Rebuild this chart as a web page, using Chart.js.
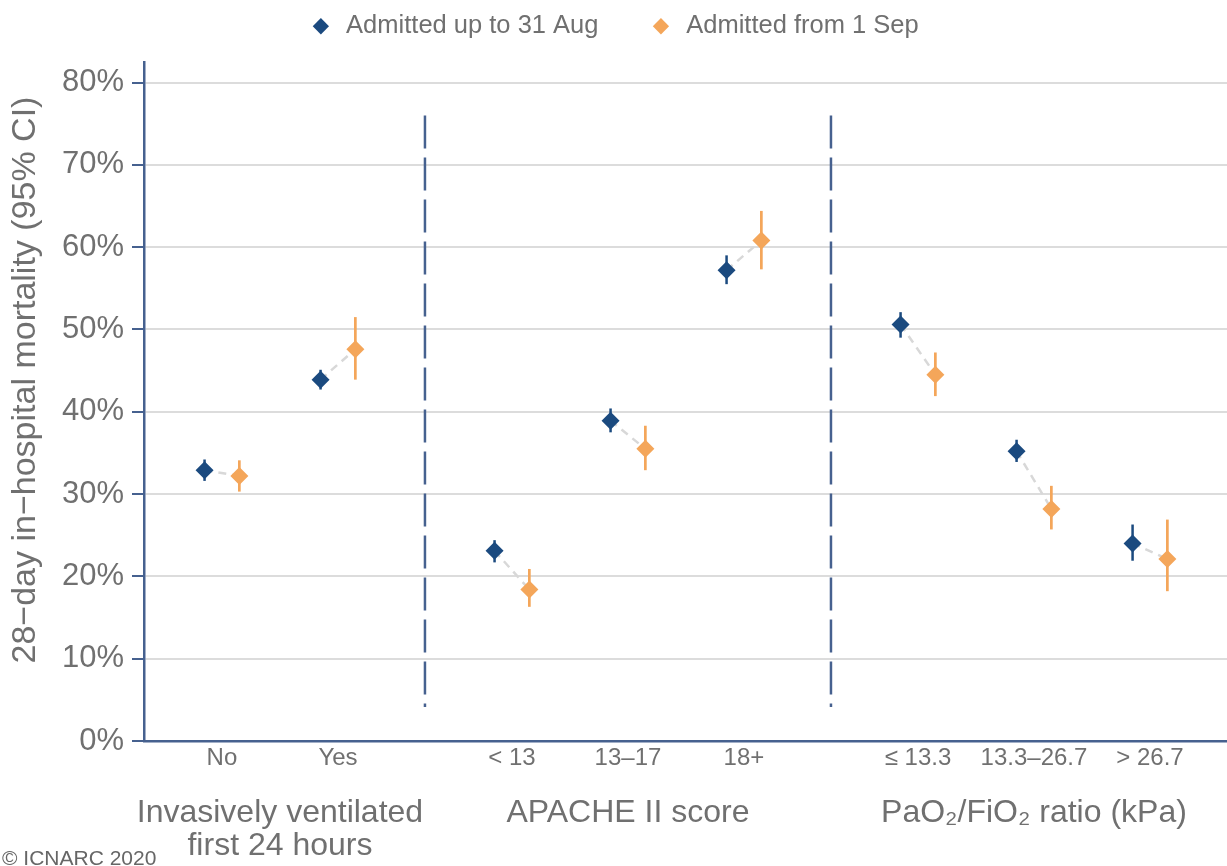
<!DOCTYPE html>
<html>
<head>
<meta charset="utf-8">
<script src="https://cdn.jsdelivr.net/npm/chart.js@4"></script>
<style>
  html, body { margin: 0; padding: 0; background: #ffffff; }
  #wrap { position: relative; width: 1227px; height: 866px; }
  #credit { position: absolute; left: 2px; top: 846px; font: 21px "Liberation Sans", Arial, sans-serif; color: #666666; line-height: 24px; white-space: nowrap; }
</style>
</head>
<body>
<div id="wrap">
  <canvas id="c" width="1227" height="866"></canvas>
  <div id="credit">© ICNARC 2020</div>
</div>
<script>
// ---- data ----
const categories = ['No', 'Yes', '< 13', '13–17', '18+', '≤ 13.3', '13.3–26.7', '> 26.7'];
const groupLabels = [['Invasively ventilated', 'first 24 hours'], 'APACHE II score', 'PaO₂/FiO₂ ratio (kPa)'];
const seriesNames = ['Admitted up to 31 Aug', 'Admitted from 1 Sep'];

const upTo31Aug     = [32.9, 43.9, 23.1, 38.9, 57.2, 50.6, 35.2, 24.0];
const upTo31AugLow  = [31.6, 42.7, 21.7, 37.5, 55.5, 49.0, 33.9, 21.9];
const upTo31AugHigh = [34.2, 45.1, 24.4, 40.4, 59.0, 52.1, 36.6, 26.3];

const from1Sep      = [32.2, 47.6, 18.4, 35.5, 60.8, 44.5, 28.2, 22.1];
const from1SepLow   = [30.3, 43.9, 16.3, 32.9, 57.3, 41.9, 25.7, 18.2];
const from1SepHigh  = [34.1, 51.5, 20.9, 38.3, 64.4, 47.2, 31.0, 26.9];

const yTickValues = [0, 10, 20, 30, 40, 50, 60, 70, 80];

// ---- layout (positions on the x scale) ----
const catPos = [1, 2, 3.5, 4.5, 5.5, 7, 8, 9];
const groupPos = [1.5, 4.5, 8];
const separatorPos = [2.75, 6.25];
const DODGE = 0.15;

const FONT = '"Liberation Sans", Arial, Helvetica, sans-serif';
const TEXT = '#707070';
const AXIS = '#46618f';
const BLUE = '#1b4a7f';
const ORANGE = '#f4a65a';
const GRID = '#dcdcdc';

Chart.defaults.font.family = FONT;

const pointsA = catPos.map((p, i) => ({ x: p - DODGE, y: upTo31Aug[i] }));
const pointsB = catPos.map((p, i) => ({ x: p + DODGE, y: from1Sep[i] }));
const connectors = [];
catPos.forEach((p, i) => {
  connectors.push({ x: p - DODGE, y: upTo31Aug[i] });
  connectors.push({ x: p + DODGE, y: from1Sep[i] });
  connectors.push({ x: p + 0.5, y: null });
});
const separators = [];
separatorPos.forEach(p => {
  separators.push({ x: p, y: 76.0 });
  separators.push({ x: p, y: 4.13 });
  separators.push({ x: p + 0.01, y: null });
});

const errorBars = {
  id: 'errorBars',
  beforeDatasetsDraw(chart) {
    const { ctx, scales: { x, y } } = chart;
    ctx.save();
    const sets = [
      [upTo31AugLow, upTo31AugHigh, -DODGE, BLUE, 2.5],
      [from1SepLow, from1SepHigh, DODGE, ORANGE, 2.7]
    ];
    sets.forEach(([lo, hi, off, col, w]) => {
      ctx.strokeStyle = col;
      ctx.lineWidth = w;
      catPos.forEach((p, i) => {
        const px = x.getPixelForValue(p + off);
        ctx.beginPath();
        ctx.moveTo(px, y.getPixelForValue(lo[i]));
        ctx.lineTo(px, y.getPixelForValue(hi[i]));
        ctx.stroke();
      });
    });
    ctx.restore();
  }
};

const noSidePadding = s => { s.paddingLeft = 0; s.paddingRight = 0; };

new Chart(document.getElementById('c'), {
  type: 'scatter',
  data: {
    datasets: [
      { label: seriesNames[0], data: pointsA, pointStyle: 'rectRot', pointRadius: 9, backgroundColor: BLUE, borderColor: BLUE, borderWidth: 0, order: 1 },
      { label: seriesNames[1], data: pointsB, pointStyle: 'rectRot', pointRadius: 9, backgroundColor: ORANGE, borderColor: ORANGE, borderWidth: 0, order: 2 },
      { type: 'line', label: 'connector', data: connectors, borderColor: '#d8d8d8', borderWidth: 2.5, borderDash: [8, 6], pointRadius: 0, spanGaps: false, fill: false, order: 3 },
      { type: 'line', label: 'separator', data: separators, borderColor: AXIS, borderWidth: 2.5, borderDash: [33, 9], pointRadius: 0, spanGaps: false, fill: false, order: 4 }
    ]
  },
  options: {
    responsive: false,
    animation: false,
    devicePixelRatio: 1,
    events: [],
    layout: { autoPadding: false, padding: { top: -36.5, left: 0, right: 0, bottom: 0 } },
    plugins: {
      tooltip: { enabled: false },
      title: { display: true, text: '', weight: 500, padding: { top: 0, bottom: 0 }, font: { size: 10, lineHeight: '13.5px' } },
      legend: {
        position: 'top',
        labels: {
          usePointStyle: true,
          boxWidth: 25,
          boxHeight: 11.5,
          padding: 50,
          color: TEXT,
          font: { size: 25.5, family: FONT },
          filter: item => item.datasetIndex < 2
        }
      }
    },
    scales: {
      x: {
        type: 'linear',
        position: 'bottom',
        min: 0.328,
        max: 9.664,
        afterBuildTicks: s => { s.ticks = catPos.map(v => ({ value: v })); },
        afterFit: s => { s.height = 40; noSidePadding(s); },
        grid: { display: false, drawTicks: false },
        border: { color: AXIS, width: 2.5 },
        ticks: {
          autoSkip: false, maxRotation: 0, minRotation: 0, padding: 3,
          color: TEXT, font: { size: 24, family: FONT },
          callback: v => categories[catPos.indexOf(v)]
        }
      },
      x2: {
        type: 'linear',
        position: 'bottom',
        weight: 1,
        min: 0.328,
        max: 9.664,
        afterBuildTicks: s => { s.ticks = groupPos.map(v => ({ value: v })); },
        afterFit: s => { s.height = 85; noSidePadding(s); },
        grid: { display: false, drawTicks: false },
        border: { display: false },
        ticks: {
          autoSkip: false, maxRotation: 0, minRotation: 0, padding: 16,
          color: TEXT, font: { size: 32, family: FONT, lineHeight: '33px' },
          callback: v => groupLabels[groupPos.indexOf(v)]
        }
      },
      y: {
        type: 'linear',
        min: 0,
        max: 82.43,
        afterBuildTicks: s => { s.ticks = yTickValues.map(v => ({ value: v })); },
        afterFit: s => { s.width = 144; },
        grid: { color: GRID, lineWidth: 2, drawTicks: true, tickColor: AXIS, tickLength: 12, tickWidth: 2 },
        border: { color: AXIS, width: 2.5 },
        ticks: { padding: 8, color: TEXT, font: { size: 31, family: FONT }, callback: v => v + '%' },
        title: { display: true, text: '\u2002\u2002 28−day in−hospital mortality (95% CI)', color: TEXT, font: { size: 34, family: FONT }, padding: { top: 5, bottom: 0 } }
      }
    }
  },
  plugins: [errorBars]
});
</script>
</body>
</html>
